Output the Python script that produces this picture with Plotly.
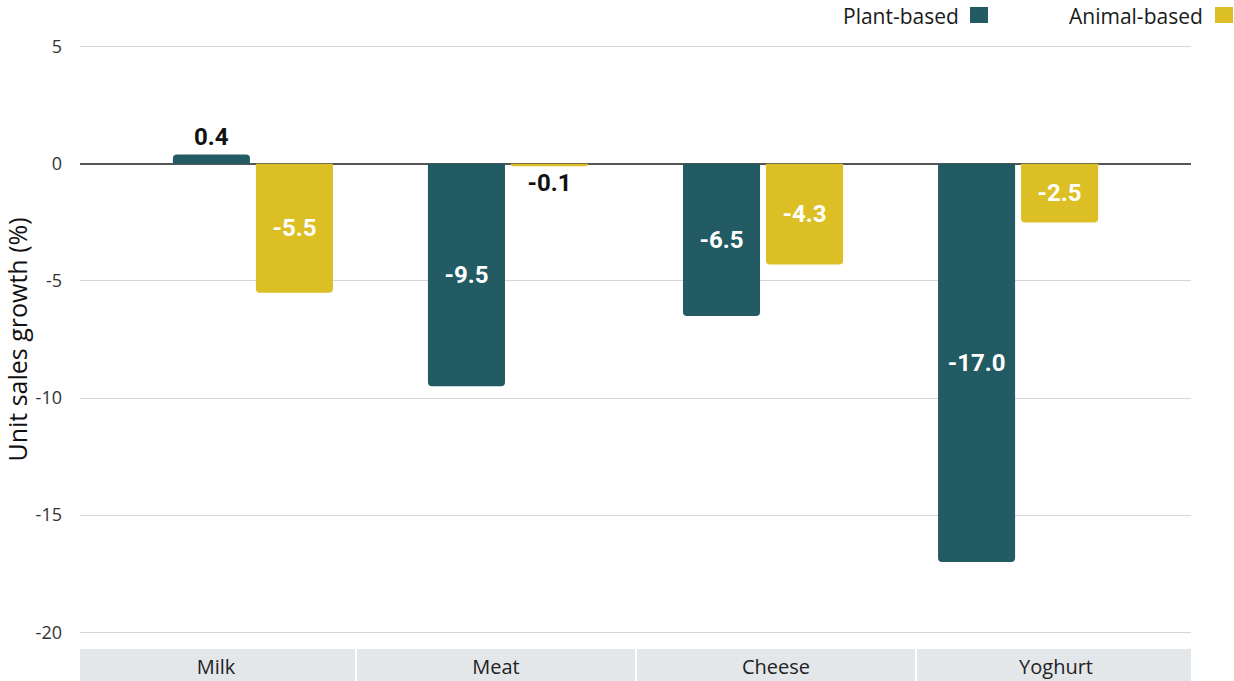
import plotly.graph_objects as go

categories = ["Milk", "Meat", "Cheese", "Yoghurt"]
plant_based = [0.4, -9.5, -6.5, -17.0]
animal_based = [-5.5, -0.1, -4.3, -2.5]
series_names = ["Plant-based", "Animal-based"]
y_tick_vals = [-20, -15, -10, -5, 0, 5]
y_tick_text = ["-20", "-15", "-10", "-5", "0", "5"]

PLANT = "#225b63"
ANIMAL = "#dcbf24"
FONT = "'Open Sans', Roboto, sans-serif"
BOLD = "Roboto, 'Open Sans', sans-serif"

fig = go.Figure()
for name, vals, col in [(series_names[0], plant_based, PLANT), (series_names[1], animal_based, ANIMAL)]:
    fig.add_trace(go.Bar(
        x=categories, y=vals, name=name, marker_color=col, marker_line_width=0,
        text=[f"{v:.1f}" for v in vals], textposition="auto",
        insidetextanchor="middle",
        insidetextfont=dict(color="white", size=24, family=BOLD, weight="bold"),
        outsidetextfont=dict(color="#111111", size=24, family=BOLD, weight="bold"),
        textangle=0, cliponaxis=False, showlegend=False,
        xaxis="x", yaxis="y",
    ))

# category band boxes on the label axis
for i, c in enumerate(categories):
    fig.add_shape(type="rect", xref="x2", yref="paper", x0=i - 0.5 + 0.0036, x1=i + 0.5 - 0.0036,
                  y0=-0.12, y1=-0.0082, fillcolor="#e4e7ea", line_width=0, layer="below")

# legend (text then square)
leg = [(series_names[0], PLANT, 0.793, 0.8011, 0.8173), (series_names[1], ANIMAL, 1.0126, 1.0216, 1.0378)]
for name, col, tx, s0, s1 in leg:
    fig.add_annotation(text=name, xref="paper", yref="paper", x=tx, y=1.031, xanchor="right",
                       yanchor="middle", showarrow=False,
                       font=dict(size=21, color="#1a1a1a", family=FONT))
    fig.add_shape(type="rect", xref="paper", yref="paper", x0=s0, x1=s1, y0=1.0197, y1=1.046,
                  fillcolor=col, line_width=0)

fig.update_layout(
    width=1234, height=681,
    margin=dict(l=80, r=43, t=35, b=37),
    paper_bgcolor="white", plot_bgcolor="white",
    barmode="group", bargap=0.349, bargroupgap=0.072, barcornerradius=4,
    font=dict(family=FONT, color="#222222"),
    xaxis=dict(type="category", range=[-0.678, 3.678], showgrid=False, showline=False, zeroline=False,
               ticks="", showticklabels=False, automargin=False),
    xaxis2=dict(type="category", overlaying="x", range=[-0.4857, 3.482], showgrid=False, showline=False,
                zeroline=False, ticks="", tickvals=categories, ticktext=categories,
                tickfont=dict(size=20, color="#222222", family=FONT), ticklabelstandoff=9,
                automargin=False, side="bottom"),
    yaxis=dict(range=[-20.5, 5.5], tickvals=y_tick_vals, ticktext=y_tick_text,
               showgrid=True, gridcolor="#d6d6d6", gridwidth=1,
               zeroline=True, zerolinecolor="#555555", zerolinewidth=1.5,
               showline=False, ticks="", tickfont=dict(size=18, color="#333333"),
               ticklabelstandoff=17, automargin=False,
               title=dict(text="Unit sales growth (%)", font=dict(size=25, color="#111111"), standoff=2)),
)
# invisible trace so the label axis is drawn
fig.add_trace(go.Scatter(x=categories, y=[None] * len(categories), xaxis="x2", yaxis="y",
                         mode="markers", showlegend=False, hoverinfo="skip"))

# remove the browser's default page margin so the figure fills the window exactly
fig.write_html("out.html", config={"displayModeBar": False},
               post_script="document.body.style.margin='0';document.body.style.overflow='hidden';")
